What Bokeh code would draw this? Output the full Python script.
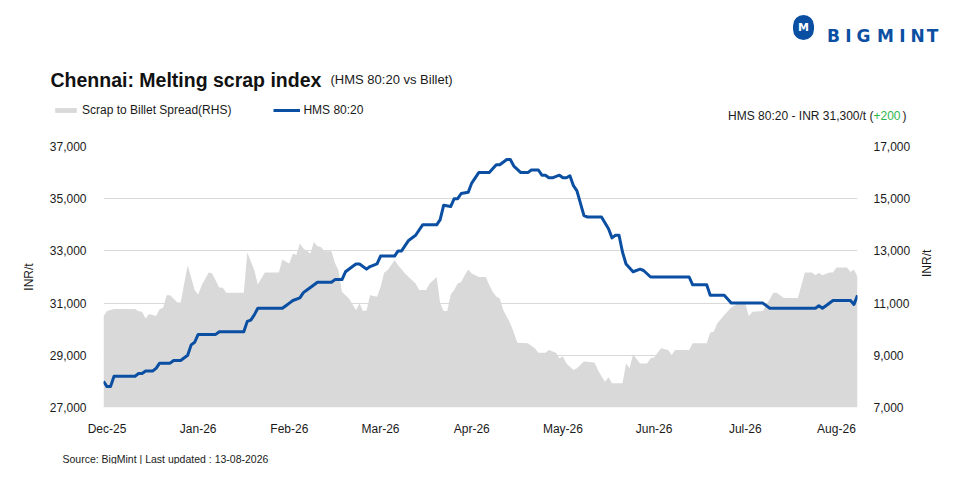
import math
from bokeh.plotting import figure
from bokeh.models import (ColumnDataSource, Range1d, LinearAxis, FixedTicker,
                          NumeralTickFormatter, Label, Legend, LegendItem)
from bokeh.embed import file_html
from bokeh.resources import INLINE

# ---- data (trading-day index) ----
hms_day = [0, 1, 2, 3, 9, 10, 11, 12, 14, 15,
           16, 19, 20, 22, 24, 25, 26, 27, 32, 33,
           40, 41, 42, 43, 44, 51, 52, 53, 54, 56,
           57, 58, 59, 61, 65, 66, 68, 69, 71, 72,
           73, 75, 76, 78, 79, 83, 84, 85, 86, 87,
           89, 91, 95, 96, 97, 99, 100, 101, 102, 104,
           105, 107, 110, 112, 113, 115, 116, 117, 119, 121,
           122, 124, 125, 126, 127, 128, 130, 131, 132, 133,
           134, 135, 137, 138, 142, 144, 145, 146, 147, 148,
           149, 151, 153, 154, 156, 167, 168, 172, 173, 177,
           179, 188, 190, 203, 204, 205, 206, 208, 213, 214,
           215]
hms_inr = [28000, 27800, 27800, 28200, 28200, 28300, 28300, 28400, 28400, 28500,
           28700, 28700, 28800, 28800, 29000, 29400, 29500, 29800, 29800, 29900,
           29900, 30300, 30350, 30550, 30800, 30800, 30900, 31000, 31100, 31200,
           31400, 31500, 31600, 31800, 31800, 31900, 31900, 32200, 32400, 32500,
           32500, 32300, 32400, 32500, 32800, 32800, 33000, 33000, 33200, 33400,
           33600, 34000, 34000, 34200, 34750, 34700, 35000, 35000, 35200, 35250,
           35600, 36000, 36000, 36300, 36300, 36500, 36500, 36250, 36000, 36000,
           36100, 36100, 35900, 35900, 35800, 35800, 35900, 35800, 35800, 35880,
           35500, 35300, 34350, 34300, 34300, 33850, 33500, 33600, 33600, 32950,
           32500, 32200, 32300, 32250, 32000, 32000, 31700, 31700, 31300, 31300,
           31000, 31000, 30800, 30800, 30900, 30800, 30900, 31100, 31100, 30950,
           31300]

spread_day = [0, 1, 3, 9, 10, 11, 12, 13, 15, 16,
              17, 18, 19, 21, 22, 24, 26, 27, 28, 30,
              31, 33, 34, 35, 40, 41, 43, 44, 46, 50,
              51, 52, 53, 54, 55, 56, 57, 59, 60, 61,
              62, 63, 65, 66, 67, 68, 70, 71, 72, 73,
              74, 75, 76, 78, 79, 80, 81, 83, 84, 86,
              87, 89, 90, 92, 93, 95, 96, 97, 98, 99,
              100, 101, 102, 103, 104, 105, 107, 109, 110, 111,
              112, 113, 114, 116, 117, 118, 121, 123, 124, 126,
              127, 129, 130, 131, 132, 134, 135, 137, 140, 141,
              142, 143, 144, 145, 148, 149, 150, 151, 153, 155,
              156, 157, 159, 161, 162, 163, 167, 168, 172, 173,
              174, 175, 177, 179, 181, 183, 184, 185, 188, 189,
              191, 192, 194, 198, 200, 202, 203, 204, 205, 207,
              208, 209, 212, 213, 214, 215]
spread_inr = [10500, 10700, 10770, 10770, 10690, 10670, 10410, 10580, 10510, 10760,
              10820, 11300, 11300, 11030, 11020, 12450, 11500, 11330, 11680, 12170,
              12130, 11600, 11590, 11400, 11400, 12940, 12260, 11710, 12170, 12170,
              12670, 12580, 12520, 12900, 12840, 13280, 13090, 12900, 13340, 13180,
              13150, 12990, 12990, 12540, 12260, 11430, 11180, 10960, 10730, 10990,
              10700, 10720, 11300, 11240, 11620, 12160, 12260, 12640, 12450, 12130,
              12000, 11750, 11500, 11500, 11750, 12000, 11000, 10700, 10700, 11330,
              11500, 11750, 11810, 12070, 12290, 12130, 12000, 12000, 11690, 11430,
              11250, 11180, 10730, 10220, 9870, 9480, 9460, 9270, 9100, 9100,
              9200, 9100, 8890, 8950, 8690, 8440, 8500, 8760, 8720, 8440,
              8200, 7990, 8160, 7930, 7930, 8690, 8500, 9040, 8690, 8690,
              8890, 8920, 9270, 9200, 9010, 9200, 9200, 9460, 9460, 9870,
              9900, 10220, 10540, 10830, 10990, 10990, 10500, 10670, 10700, 10920,
              11400, 11400, 11200, 11200, 12170, 12170, 12070, 12160, 12070, 12170,
              12170, 12360, 12360, 12190, 12290, 12000]

month_day = [1, 27, 53, 79, 105, 131, 157, 183, 209]
month_labels = ["Dec-25", "Jan-26", "Feb-26", "Mar-26", "Apr-26",
                "May-26", "Jun-26", "Jul-26", "Aug-26"]
left_ticks = [27000, 29000, 31000, 33000, 35000, 37000]
right_ticks = [7000, 9000, 11000, 13000, 15000, 17000]

BLUE = "#0b4fa3"
GREY = "#d9d9d9"
FONT = "Liberation Sans"
TXT = "#1a1a1a"
W = 944

src_s = ColumnDataSource(dict(day=spread_day, spread=spread_inr))
src_h = ColumnDataSource(dict(day=hms_day, hms=hms_inr))

# ---------------- header ----------------
HH = 132
head = figure(width=W, height=HH, output_backend="svg", toolbar_location=None,
              x_axis_type=None, y_axis_type=None, x_range=Range1d(0, 1),
              y_range=Range1d(0, 1), min_border=0, min_border_left=0,
              min_border_right=0, min_border_top=0, min_border_bottom=0)
head.outline_line_color = None
head.grid.visible = False

def lab(fig, h, x, py, text, size, color=TXT, style="normal", align="left",
        font=FONT, baseline="alphabetic"):
    fig.add_layout(Label(x=x, y=h - py, x_units="screen", y_units="screen", text=text,
                         text_font=font, text_font_size=size, text_color=color,
                         text_font_style=style, text_align=align,
                         text_baseline=baseline))

lab(head, HH, 50, 79, "Chennai: Melting scrap index", "19.5px", color="#111111", style="bold")
lab(head, HH, 330, 79, "(HMS 80:20 vs Billet)", "13px")
lab(head, HH, 873, 115, "HMS 80:20 - INR 31,300/t (", "12px", align="right")
lab(head, HH, 873, 115, "+200", "12px", color="#2db84d")
lab(head, HH, 902, 115, ")", "12px")

# logo
head.add_layout(Label(x=803, y=HH - 27, x_units="screen", y_units="screen", text="M",
                      text_font="DejaVu Sans", text_font_size="11px", text_font_style="bold",
                      text_color="white", text_align="center", text_baseline="middle",
                      background_fill_color=BLUE, padding=(5, 6), border_radius=11))
for ch, cx in zip("BIGMINT", [833, 848, 863, 885, 902, 917, 932]):
    lab(head, HH, cx, 35, ch, "17px", color=BLUE, style="bold", align="center",
        font="DejaVu Sans")

# legend keys: same series, drawn here outside the header's visible range
key_area = head.varea(x="day", y1=right_ticks[0], y2="spread", source=src_s,
                      fill_color=GREY)
key_line = head.line(x="day", y="hms", source=src_h, line_color=BLUE, line_width=3)
legend = Legend(items=[LegendItem(label="Scrap to Billet Spread(RHS)", renderers=[key_area]),
                       LegendItem(label="HMS 80:20", renderers=[key_line])],
                location=(52, HH - 117), orientation="horizontal", padding=0, margin=0,
                spacing=42, glyph_width=27, glyph_height=6, label_standoff=3,
                label_height=12, label_text_font=FONT, label_text_font_size="12px",
                label_text_color=TXT, background_fill_alpha=0, border_line_color=None)
head.add_layout(legend)

# ---------------- chart ----------------
CH = 308
p = figure(width=W, height=CH, output_backend="svg", toolbar_location=None,
           x_range=Range1d(0, 215), y_range=Range1d(left_ticks[0], left_ticks[-1]),
           min_border_left=103, min_border_right=86, min_border_top=14,
           min_border_bottom=33)
p.extra_y_ranges = {"rhs": Range1d(right_ticks[0], right_ticks[-1])}
p.outline_line_color = None

p.varea(x="day", y1=right_ticks[0], y2="spread", source=src_s,
        y_range_name="rhs", fill_color=GREY)
p.line(x="day", y="hms", source=src_h, line_color=BLUE, line_width=3,
       line_join="round")

p.xaxis.ticker = FixedTicker(ticks=month_day)
p.xaxis.major_label_overrides = {d: l for d, l in zip(month_day, month_labels)}
p.yaxis.ticker = FixedTicker(ticks=left_ticks)
p.yaxis.formatter = NumeralTickFormatter(format="0,0")
p.yaxis.axis_label = "INR/t"
rax = LinearAxis(y_range_name="rhs", ticker=FixedTicker(ticks=right_ticks),
                 formatter=NumeralTickFormatter(format="0,0"), axis_label="INR/t")
p.add_layout(rax, "right")

for ax in [p.xaxis[0], p.yaxis[0], rax]:
    ax.axis_line_color = None
    ax.major_tick_line_color = None
    ax.minor_tick_line_color = None
    ax.major_label_text_font = FONT
    ax.major_label_text_font_size = "12px"
    ax.major_label_text_color = TXT
    ax.axis_label_text_font = FONT
    ax.axis_label_text_font_size = "12px"
    ax.axis_label_text_font_style = "normal"
    ax.axis_label_text_color = TXT
p.xaxis.major_label_standoff = 8
p.yaxis.major_label_standoff = 11
rax.major_label_standoff = 10
p.yaxis.axis_label_standoff = 11
rax.axis_label_standoff = 14
if hasattr(rax, "axis_label_orientation"):
    rax.axis_label_orientation = math.pi / 2

p.xgrid.visible = False
p.ygrid.ticker = FixedTicker(ticks=left_ticks)
p.ygrid.grid_line_color = GREY
p.ygrid.grid_line_width = 1

# ---------------- footer ----------------
FH = 24
foot = figure(width=W, height=FH, output_backend="svg", toolbar_location=None,
              x_axis_type=None, y_axis_type=None, x_range=Range1d(0, 1),
              y_range=Range1d(0, 1), min_border=0, min_border_left=0,
              min_border_right=0, min_border_top=0, min_border_bottom=0)
foot.outline_line_color = None
foot.grid.visible = False
lab(foot, FH, 62, 18, "Source: BigMint | Last updated : 13-08-2026", "10.5px",
    baseline="middle")

open("out.html", "w").write(file_html([head, p, foot], INLINE))
